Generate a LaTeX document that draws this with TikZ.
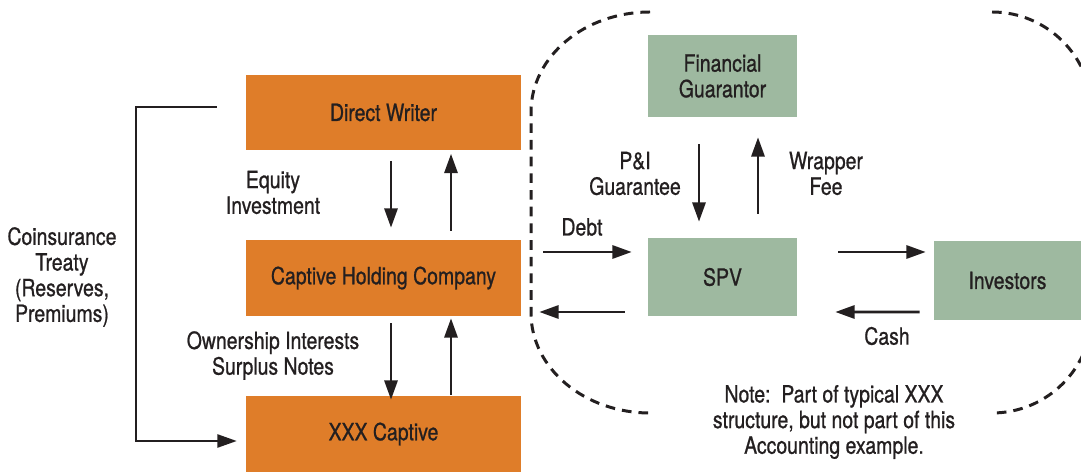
\documentclass[tikz,border=0pt]{standalone}
\usepackage{fontspec}
\setmainfont{TeX Gyre Heros}[FakeStretch=0.82,FakeBold=0.8]
\usetikzlibrary{arrows.meta,calc}
\definecolor{ink}{HTML}{231F20}
\definecolor{capOrange}{HTML}{DF7D29}
\definecolor{spvGreen}{HTML}{9EB9A0}
\tikzset{
    entity/.style={
        inner sep=0pt,
        align=center,
        text=ink,
        font=\fontsize{13.5}{14.6}\selectfont
    },
    orange box/.style={
        entity,
        fill=capOrange,
        minimum width=5.5cm,
        minimum height=1.52cm
    },
    green box/.style={
        entity,
        fill=spvGreen
    },
    flow label/.style={entity},
    flow/.style={
        -{Triangle[length=11pt,width=7.5pt]},
        line width=1.5pt,
        draw=ink
    },
    treaty/.style={flow, line width=1.1pt},
    boundary/.style={
        line width=1.7pt,
        draw=ink,
        dash pattern=on 5.5pt off 4pt
    }
}

\begin{document}
\begin{tikzpicture}[x=0.02cm, y=-0.02cm]
                \useasboundingbox (0,0) rectangle (1081,472);
                \node[orange box] (dw) at (383.5,112.5) {Direct Writer};
                \node[orange box] (chc) at (383.5,278) {Captive Holding Company};
                \node[orange box] (xxx) at (383.5,434) {XXX Captive};
                \node[green box, minimum width=2.98cm, minimum height=1.64cm] (fg) at (722.5,76) {Financial\\Guarantor};
                \node[green box, minimum width=2.98cm, minimum height=1.56cm] (spv) at (722.5,277) {SPV};
                \node[green box, minimum width=2.94cm, minimum height=1.58cm] (inv) at (1007.5,280.5) {Investors};

                \node[flow label] (eq) at (273,192.5) {Equity\\Investment};
                \node[flow label] (own) at (273,355.5) {Ownership Interests\\Surplus Notes};
                \node[flow label] (pi) at (635,173.5) {P\&I\\Guarantee};
                \node[flow label] (wf) at (826,173.5) {Wrapper\\Fee};
                \node[flow label] (debt) at (582,227) {Debt};
                \node[flow label] (cash) at (887,336) {Cash};
                \node[flow label] (coins) at (62,277) {Coinsurance\\Treaty\\(Reserves,\\Premiums)};
                \node[flow label] (note) at (834,422) {Note:\ \ Part of typical XXX\\structure, but not part of this\\Accounting example.};

                \draw[flow] ($(dw.south)+(7.5,10)$) -- ($(chc.north)+(7.5,-12)$);
                \draw[flow] ($(chc.north)+(67.5,-9)$) -- ($(dw.south)+(67.5,3)$);
                \draw[flow] ($(chc.south)+(7.5,7)$) -- ($(xxx.north)+(7.5,4)$);
                \draw[flow] ($(xxx.north)+(67.5,-1)$) -- ($(chc.south)+(67.5,2)$);
                \draw[flow] ($(fg.south)+(-23.5,27)$) -- ($(spv.north)+(-23.5,-16)$);
                \draw[flow] ($(spv.north)+(35.5,-24)$) -- ($(fg.south)+(35.5,20)$);
                \draw[flow] ($(chc.east)+(22,-26)$) -- ($(spv.west)+(-16,-25)$);
                \draw[flow] ($(spv.west)+(-23,35)$) -- ($(chc.east)+(18,34)$);
                \draw[flow] ($(spv.east)+(41,-25)$) -- ($(inv.west)+(-8,-28.5)$);
                \draw[flow] ($(inv.west)+(-14,31.5)$) -- ($(spv.east)+(38,35)$);
                \draw[treaty] ($(dw.west)+(-29,-5.5)$) -- ++(-81,0) |- ($(xxx.west)+(-9,7)$);

                % dashed outline round the SPV part
                \begin{scope}
                    \clip (0,0) rectangle (1081,472);
                    \draw[boundary] (650,12) arc[start angle=-90, end angle=-180, x radius=119, y radius=100]
                        -- (531,313) arc[start angle=180, end angle=90, x radius=119, y radius=100];
                    \draw[boundary] (992,12) arc[start angle=-90, end angle=0, x radius=100, y radius=100]
                        -- (1092,313) arc[start angle=0, end angle=90, x radius=100, y radius=100];
                \end{scope}
            \end{tikzpicture}
\end{document}
